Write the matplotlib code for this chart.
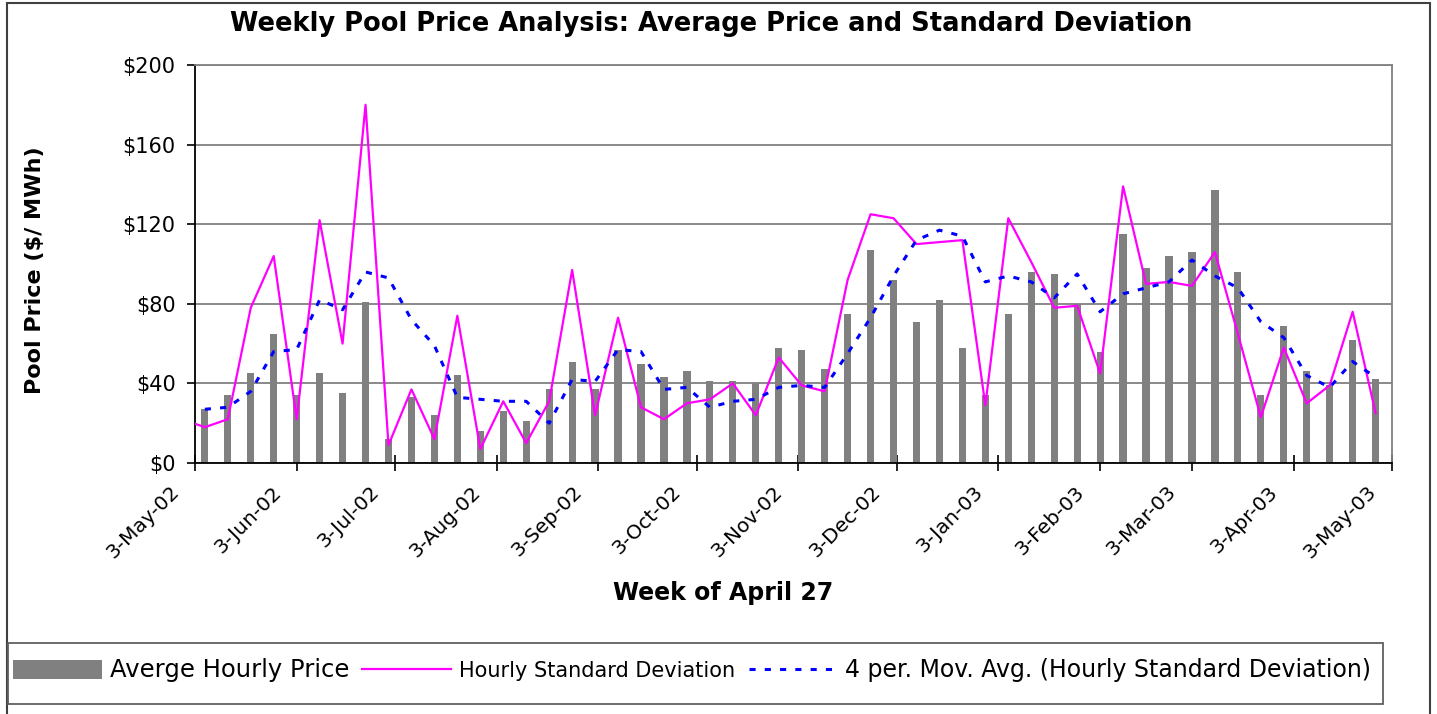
import pandas as pd
import numpy as np
import matplotlib
matplotlib.use("Agg")
import matplotlib.pyplot as plt
import matplotlib.dates as mdates
import matplotlib.transforms as mtransforms
from matplotlib.patches import Rectangle

plt.rcParams["font.family"] = ["DejaVu Sans"]

# weekly dates (first week lies before the axis start and is clipped)
weeks = pd.date_range("2002-04-29", periods=53, freq="7D")

# average hourly price, weeks from 6-May-02
avg_price = [27, 34, 45, 65, 34, 45, 35, 81, 12, 33, 24, 44, 16, 26, 21, 37,
             51, 37, 57, 50, 43, 46, 41, 41, 40, 58, 57, 47, 75, 107, 92, 71,
             82, 58, 34, 75, 96, 95, 80, 56, 115, 98, 104, 106, 137, 96, 34,
             69, 46, 39, 62, 42]

# hourly standard deviation, weeks from 29-Apr-02
std_dev = [22, 18, 22, 78, 104, 22, 122, 60, 180, 9, 37, 12, 74, 7, 31, 10,
           31, 97, 24, 73, 28, 22, 30, 32, 40, 24, 53, 39, 36, 92, 125, 123,
           110, 111, 112, 29, 123, 101, 78, 79, 45, 139, 90, 91, 89, 106, 65,
           23, 58, 30, 39, 76, 25]

# 4 period moving average trendline, weeks from 6-May-02
mov_avg = [27, 28, 36, 56, 57, 82, 77, 96, 93, 72, 59, 33, 32, 31, 31, 20,
           42, 41, 57, 56, 37, 38, 28, 31, 32, 38, 39, 38, 55, 73, 94, 112,
           117, 114, 91, 94, 91, 83, 95, 76, 85, 88, 91, 102, 94, 88, 71, 63,
           44, 38, 51, 43]

y_ticks = [0, 40, 80, 120, 160, 200]

W, H = 1437, 714
fig = plt.figure(figsize=(W / 100, H / 100), dpi=100)
ax = fig.add_axes([195 / W, 1 - 463 / H, (1392 - 195) / W, (463 - 65) / H])

bars = ax.bar(weeks[1:], avg_price, width=2.2, color="#808080", zorder=2)
std_line, = ax.plot(weeks, std_dev, color="#FF00FF", lw=1.6, zorder=3)
ma_line, = ax.plot(weeks[1:], mov_avg, color="#0000FF", lw=2.2,
                   ls=(0, (2, 3)), zorder=4)

ax.set_xlim(pd.Timestamp("2002-05-03"), pd.Timestamp("2003-05-03"))
ax.set_ylim(0, 200)
ax.set_yticks(y_ticks)
ax.set_yticklabels(["$%d" % v for v in y_ticks], fontsize=15)
ax.yaxis.grid(True, color="#808080", lw=1.3)
ax.set_axisbelow(True)

ax.xaxis.set_major_locator(mdates.MonthLocator(bymonthday=3))
ax.xaxis.set_major_formatter(plt.FuncFormatter(
    lambda v, p: "%d-%s" % (mdates.num2date(v).day, mdates.num2date(v).strftime("%b-%y"))))
ax.tick_params(axis="x", direction="inout", length=11, width=1.2, labelsize=14.5, pad=2)
ax.tick_params(axis="y", direction="out", length=6, width=1.2, pad=8)
offset = mtransforms.ScaledTranslation(-12 / 100, -9 / 100, fig.dpi_scale_trans)
for lab in ax.get_xticklabels():
    lab.set_rotation(45)
    lab.set_ha("right")
    lab.set_va("top")
    lab.set_transform(lab.get_transform() + offset)

for s in ["left", "bottom"]:
    ax.spines[s].set_color("black")
    ax.spines[s].set_linewidth(1.3)
for s in ["top", "right"]:
    ax.spines[s].set_color("#808080")
    ax.spines[s].set_linewidth(1.3)

fig.text(711 / W, 1 - 24 / H,
         "Weekly Pool Price Analysis: Average Price and Standard Deviation",
         ha="center", va="center", fontsize=18.5, fontweight="bold")
fig.text(35 / W, 1 - 270 / H, "Pool Price ($/ MWh)", rotation=90,
         ha="center", va="center", fontsize=16, fontweight="bold")
fig.text(723 / W, 1 - 593 / H, "Week of April 27", ha="center", va="center",
         fontsize=17, fontweight="bold")

# outer chart border and legend box
fig.patches.append(Rectangle((7 / W, -0.01), (1430 - 7) / W, 1 - 3 / H + 0.01,
                             transform=fig.transFigure, fill=False,
                             ec="#404040", lw=1.5))
fig.patches.append(Rectangle((8 / W, 1 - 704 / H), (1383 - 8) / W, 61 / H,
                             transform=fig.transFigure, fill=False,
                             ec="#606060", lw=1.3))

leg = fig.legend([bars, std_line, ma_line],
                 ["Averge Hourly Price", "Hourly Standard Deviation",
                  "4 per. Mov. Avg. (Hourly Standard Deviation)"],
                 loc="center left", bbox_to_anchor=(13 / W, 1 - 670 / H),
                 ncol=3, frameon=False, fontsize=16, handlelength=4,
                 handleheight=0.9, handletextpad=0.35, columnspacing=0.6,
                 borderaxespad=0, borderpad=0)
leg.get_texts()[0].set_fontsize(17.5)
leg.get_texts()[1].set_fontsize(15)
leg.get_texts()[2].set_fontsize(17)

fig.savefig("out.png", dpi=100)
